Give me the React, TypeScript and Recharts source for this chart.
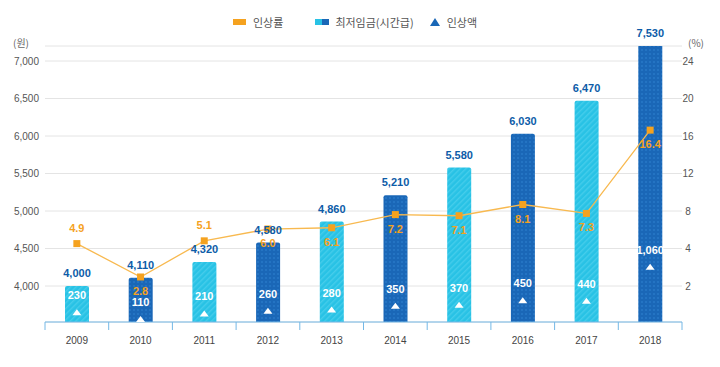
import React from 'react';
import { ComposedChart, Bar, Line, Scatter, XAxis, YAxis, CartesianGrid, Cell, LabelList } from 'recharts';

const years = ['2009', '2010', '2011', '2012', '2013', '2014', '2015', '2016', '2017', '2018'];
const wages = [4000, 4110, 4320, 4580, 4860, 5210, 5580, 6030, 6470, 7530];
const rates = [4.9, 2.8, 5.1, 6.0, 6.1, 7.2, 7.1, 8.1, 7.3, 16.4];
const raises = [230, 110, 210, 260, 280, 350, 370, 450, 440, 1060];
const wageTicks = [4000, 4500, 5000, 5500, 6000, 6500, 7000];
const rateTickLabels = [2, 4, 8, 12, 16, 20, 24];
const rateLabelAbove = ['2009', '2011'];

const data = years.map((year, i) => ({
  year,
  wage: wages[i],
  rate: rates[i],
  raise: raises[i],
}));

const PLOT_TOP = 46;
const PLOT_LEFT = 45;
const FONT = '"Liberation Sans", Arial, "Noto Sans CJK KR", sans-serif';
const KFONT = '"Noto Sans CJK KR", "Liberation Sans", sans-serif';
const CYAN = '#28c2e5';
const BLUE = '#1a67b7';
const ORANGE = '#f5a21f';
const AXIS_BLUE = '#74b8e6';

function YearTick(props: any) {
  const { x, y, payload, index } = props;
  const half = payload.offset || 31.85;
  return (
    <g>
      <line x1={x - half} x2={x - half} y1={y} y2={y + 8} stroke={AXIS_BLUE} />
      {index === years.length - 1 && (
        <line x1={x + half} x2={x + half} y1={y} y2={y + 8} stroke={AXIS_BLUE} />
      )}
      <text x={x} y={y + 18} textAnchor="middle" dominantBaseline="central" fontSize={10} fill="#444" fontFamily={FONT}>
        {payload.value}
      </text>
    </g>
  );
}

function LeftTick(props: any) {
  const { y, payload } = props;
  return (
    <text x={PLOT_LEFT - 6} y={y} textAnchor="end" dominantBaseline="central" fontSize={10} fill="#555" fontFamily={FONT}>
      {Number(payload.value).toLocaleString('en-US')}
    </text>
  );
}

function RightTick(props: any) {
  const { x, y, payload, index } = props;
  return (
    <text x={x + 6} y={y} textAnchor="middle" dominantBaseline="central" fontSize={10} fill="#555" fontFamily={FONT}>
      {rateTickLabels[index] ?? payload.value}
    </text>
  );
}

function WageLabel(props: any) {
  const { x, y, width, value } = props;
  const top = Math.max(y, PLOT_TOP);
  return (
    <text x={x + width / 2} y={top - 13} textAnchor="middle" dominantBaseline="central" fontSize={11} fontWeight="bold" fill="#0d5ca8" fontFamily={FONT}>
      {value.toLocaleString('en-US')}
    </text>
  );
}

function RateDot(props: any) {
  const { cx, cy, payload, index } = props;
  const above = rateLabelAbove.includes(payload.year);
  return (
    <g key={'rd' + index}>
      <rect x={cx - 3.5} y={cy - 3.5} width={7} height={7} fill={ORANGE} />
      <text x={cx} y={above ? cy - 16 : cy + 14} textAnchor="middle" dominantBaseline="central" fontSize={11} fontWeight="bold" fill={ORANGE} fontFamily={FONT}>
        {payload.rate.toFixed(1)}
      </text>
    </g>
  );
}

function RaiseMark(props: any) {
  const { cx, cy, payload } = props;
  return (
    <g>
      <path d={`M${cx - 4.5},${cy + 3} L${cx + 4.5},${cy + 3} L${cx},${cy - 3} Z`} fill="#fff" />
      <text x={cx} y={cy - 17} textAnchor="middle" dominantBaseline="central" fontSize={11} fontWeight="bold" fill="#fff" fontFamily={FONT}>
        {payload.raise.toLocaleString('en-US')}
      </text>
    </g>
  );
}

function LegendRow() {
  const text = { fontSize: 11, color: '#555', fontFamily: KFONT, lineHeight: '12px' };
  return (
    <div style={{ position: 'absolute', top: 16, left: 233, display: 'flex', alignItems: 'center' }}>
      <span style={{ width: 13, height: 6, background: ORANGE, display: 'inline-block' }} />
      <span style={{ ...text, marginLeft: 7 }}>인상률</span>
      <span style={{ width: 7, height: 6, background: CYAN, display: 'inline-block', marginLeft: 32 }} />
      <span style={{ width: 7, height: 6, background: BLUE, display: 'inline-block' }} />
      <span style={{ ...text, marginLeft: 6 }}>최저임금(시간급)</span>
      <svg width={10} height={8} style={{ marginLeft: 16 }}>
        <path d="M0,8 L10,8 L5,0 Z" fill={BLUE} />
      </svg>
      <span style={{ ...text, marginLeft: 7 }}>인상액</span>
    </div>
  );
}

export default function App() {
  return (
    <div style={{ position: 'relative', width: 720, height: 367, background: '#fff' }}>
      <style>{'body{margin:0}'}</style>
      <LegendRow />
      <div style={{ position: 'absolute', left: 13, top: 35, fontSize: 10, color: '#666', fontFamily: KFONT }}>(원)</div>
      <div style={{ position: 'absolute', left: 688, top: 35, fontSize: 10, color: '#666', fontFamily: KFONT }}>(%)</div>
      <ComposedChart width={720} height={367} data={data} margin={{ top: PLOT_TOP, right: 8, bottom: 15, left: 0 }}>
        <defs>
          <pattern id="cyanHatch" width="4" height="4" patternUnits="userSpaceOnUse" patternTransform="rotate(45)">
            <rect width="4" height="4" fill={CYAN} />
            <rect width="1.4" height="4" fill="#45cdeb" />
          </pattern>
          <pattern id="blueDots" width="4" height="4" patternUnits="userSpaceOnUse">
            <rect width="4" height="4" fill={BLUE} />
            <circle cx="2" cy="2" r="1.1" fill="#2677c6" />
          </pattern>
        </defs>
        <CartesianGrid yAxisId="wage" xAxisId="cat" vertical={false} stroke="#e4e4e4" />
        <XAxis
          xAxisId="cat"
          dataKey="year"
          height={30}
          axisLine={{ stroke: AXIS_BLUE }}
          tickLine={false}
          tickSize={0}
          tickMargin={0}
          tick={<YearTick />}
          interval={0}
        />
        <YAxis
          yAxisId="wage"
          width={PLOT_LEFT}
          domain={[3520, 7200]}
          allowDataOverflow
          ticks={wageTicks}
          axisLine={false}
          tickLine={false}
          tick={<LeftTick />}
        />
        <YAxis
          yAxisId="pct"
          orientation="right"
          width={30}
          domain={[3520, 7200]}
          allowDataOverflow
          ticks={wageTicks}
          axisLine={false}
          tickLine={false}
          tickSize={0}
          tickMargin={0}
          tick={<RightTick />}
        />
        <YAxis yAxisId="rate" hide scale="sqrt" domain={[0.893, 29.28]} />
        <YAxis yAxisId="amt" hide domain={[55, 5070]} />
        <Bar xAxisId="cat" yAxisId="wage" dataKey="wage" barSize={24} radius={[2, 2, 0, 0]} isAnimationActive={false}>
          {data.map((d, i) => (
            <Cell key={d.year} fill={i % 2 === 0 ? 'url(#cyanHatch)' : 'url(#blueDots)'} />
          ))}
          <LabelList dataKey="wage" content={<WageLabel />} />
        </Bar>
        <Line
          xAxisId="cat"
          yAxisId="rate"
          dataKey="rate"
          stroke="#f8b94f"
          strokeWidth={1.3}
          dot={(p: any) => <RateDot key={'d' + p.index} {...p} />}
          activeDot={false}
          isAnimationActive={false}
        />
        <Scatter xAxisId="cat" yAxisId="amt" dataKey="raise" shape={<RaiseMark />} isAnimationActive={false} />
      </ComposedChart>
    </div>
  );
}
